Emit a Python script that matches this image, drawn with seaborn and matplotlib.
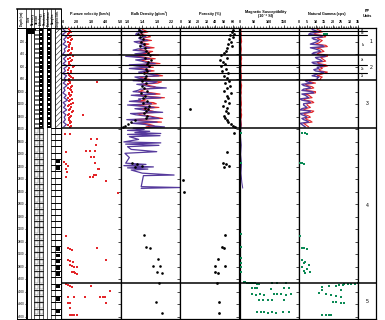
import matplotlib
matplotlib.use("Agg")
import matplotlib.pyplot as plt
import seaborn as sns
import numpy as np
from matplotlib.patches import Rectangle

# ---------------- data ----------------
depth_tick_labels = [200, 400, 600, 800, 1000, 1200, 1400, 1600, 1800, 2000, 2200, 2400,
                     2600, 2800, 3000, 3200, 3400, 3600, 3800, 4000, 4200, 4400, 4600]

log_depth = [0, 39, 78, 117, 156, 195, 234, 273, 312, 351, 390, 429, 468, 507, 546, 585, 624,
             663, 702, 741, 780, 819, 858, 897, 936, 975, 1014, 1053, 1092, 1131, 1170, 1209,
             1248, 1287, 1326, 1365, 1404, 1443, 1482, 1521, 1560]
log_depth_mid = [19.5, 58.5, 97.5, 136.5, 175.5, 214.5, 253.5, 292.5, 331.5, 370.5, 409.5,
                 448.5, 487.5, 526.5, 565.5, 604.5, 643.5, 682.5, 721.5, 760.5, 799.5, 838.5,
                 877.5, 916.5, 955.5, 994.5, 1033.5, 1072.5, 1111.5, 1150.5, 1189.5, 1228.5,
                 1267.5, 1306.5, 1345.5, 1384.5, 1423.5, 1462.5, 1501.5, 1540.5]

pwave_log = [1.10, 1.28, 1.05, 1.32, 1.12, 1.25, 1.07, 1.35, 1.15, 1.22, 1.06, 1.30, 1.11, 1.27,
             1.08, 1.36, 1.13, 1.24, 1.05, 1.31, 1.16, 1.26, 1.09, 1.34, 1.12, 1.21, 1.06, 1.29,
             1.14, 1.38, 1.08, 1.25, 1.11, 1.32, 1.07, 1.27, 1.15, 1.23, 1.09, 1.30, 1.12]
pwave_red_log = [1.45, 1.62, 1.38, 1.55, 1.70, 1.42, 1.58, 1.48, 1.66, 1.40, 1.52, 1.75, 1.44,
                 1.60, 1.50, 1.85, 1.47, 1.63, 1.41, 1.57, 1.72, 1.46, 1.54, 1.68, 1.43, 1.59,
                 1.49, 1.65, 1.39, 1.56, 1.74, 1.45, 1.61, 1.51, 1.67, 1.42, 1.58, 1.48, 1.64,
                 1.44, 1.53]
pwave_red_mid = [1.55, 1.48, 1.65, 1.40, 1.60, 1.52, 1.45, 1.70, 1.50, 1.62, 1.42, 1.58, 1.68,
                 1.46, 1.55, 1.72, 1.44, 1.60, 1.50, 1.65, 1.48, 1.58, 1.42, 1.62, 1.52, 1.70,
                 1.45, 1.56, 1.66, 1.48, 1.60, 1.42, 1.55, 1.75, 1.50, 1.62, 1.46, 1.58, 1.52,
                 1.64]
pwave_pts_depth = [836, 1369, 1673, 1673, 1753, 1753, 1849, 1956, 1945, 1945, 1945, 2036, 2036,
                   2142, 2117, 2150, 2190, 2230, 2277, 2238, 2238, 2330, 2330, 2357, 2357, 2366,
                   2421, 2613, 3301, 3503, 3515, 3530, 3503, 3690, 3700, 3718, 3690, 3770, 3785,
                   3795, 3807, 3878, 3890, 3900, 3915, 4075, 4090, 4105, 4118, 4107, 4182, 4278,
                   4278, 4278, 4278, 4278, 4278, 4374, 4384, 4380, 4464, 4571, 4571, 4575, 4571]
pwave_pts = [3.40, 2.44, 1.20, 1.54, 3.00, 3.40, 3.35, 1.30, 2.67, 2.94, 3.24, 3.00, 3.20,
             3.28, 1.15, 1.30, 1.40, 1.25, 1.35, 3.46, 3.52, 3.20, 3.35, 2.90, 3.10, 1.30,
             4.00, 4.80, 1.30, 1.43, 1.55, 1.66, 3.40, 1.40, 1.55, 1.75, 4.03, 1.55, 1.70,
             1.85, 2.00, 1.66, 1.80, 1.90, 2.00, 1.30, 1.40, 1.54, 1.66, 3.00, 4.25, 1.43,
             1.80, 2.60, 3.58, 3.80, 3.94, 1.43, 1.54, 4.00, 1.54, 1.54, 1.66, 1.80, 2.00]

bd_log_red = [1.40, 1.55, 1.35, 1.62, 1.45, 1.30, 1.58, 1.50, 1.38, 1.68, 1.32, 1.10, 1.75, 1.48,
              1.88, 1.35, 1.20, 1.72, 1.55, 1.95, 1.42, 1.28, 1.82, 1.58, 1.70, 1.40, 1.65, 1.22,
              2.00, 1.48, 1.70, 1.15, 1.85, 1.52, 1.78, 1.35, 1.75, 1.12, 1.92, 1.60, 1.50]
bd_red_mid = [1.48, 1.38, 1.55, 1.42, 1.65, 1.40, 1.45, 1.72, 1.30, 1.58, 1.85, 1.48, 1.35,
              1.62, 1.25, 1.70, 1.52, 1.42, 1.80, 1.33, 1.62, 1.92, 1.38, 1.75, 1.48, 1.30,
              1.88, 1.58, 1.45, 1.20, 1.78, 1.50, 1.35, 1.68, 1.25, 1.60, 1.95, 1.45, 1.28, 1.72]
bd_log_purple = [1.30, 1.45, 1.22, 1.50, 1.35, 1.18, 1.48, 1.40, 1.28, 1.55, 1.20, 0.95, 1.60,
                 1.38, 1.75, 1.25, 1.05, 1.62, 1.42, 1.85, 1.30, 1.15, 1.70, 1.45, 2.05, 1.28,
                 1.52, 1.10, 1.90, 1.35, 1.58, 1.00, 1.72, 1.40, 1.95, 1.22, 1.65, 0.98, 1.80,
                 1.48, 2.00]
bd_purple_mid = [1.38, 1.25, 1.42, 1.30, 1.55, 1.28, 1.33, 1.60, 1.15, 1.45, 1.70, 1.35, 1.22,
                 1.50, 1.05, 1.58, 1.40, 1.30, 1.68, 1.20, 1.50, 1.80, 1.25, 1.62, 1.35, 1.15,
                 1.75, 1.45, 1.30, 1.05, 1.65, 1.38, 1.20, 1.55, 1.08, 1.48, 1.85, 1.30, 1.12,
                 1.60]
bd_log2_depth = [1580, 1600, 1615, 1630, 1650, 1665, 1680, 1700, 1716, 1760, 1800, 1815, 1835,
                 1855, 1876, 1920, 1956, 1982, 2050, 2140, 2160, 2180, 2200, 2215, 2235, 2250,
                 2300, 2330, 2340, 2516, 2530, 2543]
bd_log2 = [1.15, 1.45, 1.00, 1.60, 1.20, 1.90, 1.00, 1.88, 1.05, 1.30, 0.90, 1.90, 0.95, 1.85,
           1.00, 1.10, 1.79, 0.93, 1.05, 0.95, 1.50, 0.90, 1.70, 1.00, 1.55, 1.10, 1.40, 2.26,
           1.43, 1.37, 2.42, 1.37]

mad_depth = [15, 40, 65, 95, 125, 160, 195, 230, 265, 300, 340, 380, 415, 450, 485, 520, 555,
             590, 625, 660, 700, 740, 780, 820, 860, 900, 940, 980, 1020, 1060, 1100, 1140, 1180,
             1220, 1260, 1278, 1300, 1340, 1380, 1420, 1450, 1480, 1510, 1540, 1565]
bd_dots = [1.30, 1.36, 1.28, 1.40, 1.33, 1.42, 1.37, 1.45, 1.35, 1.47, 1.50, 1.55, 1.60, 1.48,
           1.63, 1.56, 1.52, 1.58, 1.49, 1.54, 1.44, 1.51, 1.46, 1.40, 1.50, 1.38, 1.45, 1.53,
           1.36, 1.47, 1.43, 1.52, 1.41, 1.57, 1.46, 1.55, 1.50, 1.44, 1.52, 1.50, 1.20, 1.10,
           1.00, 0.92, 0.88]
porosity = [61, 59, 62, 57, 60, 56, 58, 55, 59, 54, 52, 50, 47, 53, 45, 49, 51, 46, 52, 48, 55,
            50, 53, 56, 51, 57, 54, 50, 58, 53, 55, 51, 56, 49, 54, 10.3, 52, 55, 50, 51, 53, 55,
            58, 61, 63]
bd_dots_depth_low = [2133, 2155, 2180, 2206, 3290, 3477, 3493, 3679, 3782, 3782, 3878, 3903,
                     4063, 4358, 4544]
bd_dots_low = [1.11, 1.25, 1.38, 1.20, 1.45, 1.49, 1.61, 1.82, 1.68, 1.88, 1.79, 1.92, 1.85,
               1.76, 1.94]
por_depth_low = [1662, 1956, 2133, 2155, 2180, 2206, 2409, 2597, 3290, 3477, 3493, 3679, 3782,
                 3782, 3878, 3903, 4063, 4358, 4544]
por_low = [61.7, 54, 49, 52, 56, 50, 2.3, 3.4, 51.7, 48, 50, 42.5, 40, 51, 39.4, 43, 42, 44, 44]

ms_red = [5, 4, 6, 5, 6, 7, 4, 5, 6, 5, 4, 6, 7, 5, 6, 6, 4, 5, 5, 6, 6, 4, 5, 7, 6, 5, 6, 4,
          5, 5, 6, 6, 4, 6, 5, 7, 6, 4, 5, 6, 5]
ms_purple_depth = [1450, 1570, 1700, 1850, 2000, 2150, 2300, 2450, 2540]
ms_purple = [4, 5, 3, 6, 4, 7, 5, 8, 11]
ms_green_depth = [1652, 2142, 3279, 3477, 3663, 3734, 3798, 3878,
                  4047, 4050, 4053, 4056, 4060, 4063, 4066, 4070, 4073, 4075,
                  4055, 4060, 4065,
                  4140, 4146, 4138, 4150, 4143, 4136,
                  4230, 4245, 4235, 4250, 4228, 4242, 4238, 4248, 4232,
                  4325, 4335, 4330, 4338, 4328,
                  4522, 4530, 4526, 4534, 4524, 4532, 4528, 4530]
ms_green = [4, 4, 4, 4, 4, 4, 4, 6,
            15, 20, 26, 32, 38, 45, 52, 58, 63, 66,
            111, 128, 156,
            43, 52, 60, 106, 151, 168,
            43, 55, 68, 83, 116, 128, 139, 156, 173,
            65, 80, 95, 111, 151,
            60, 72, 84, 96, 110, 125, 148, 168]

ng_purple = [8, 12, 6, 14, 9, 11, 7, 15, 10, 13, 8, 16, 11, 14, 9, 15, 12, 10, 13, 8, 11,
             4, 8, 3, 7, 2, 9, 4, 6, 2, 7, 3, 5, 1, 6, 2, 5, 3, 6, 2, 4]
ng_purple_mid = [10, 7, 13, 8, 12, 9, 14, 7, 12, 9, 15, 10, 13, 8, 14, 11, 9, 15, 10, 12, 11,
                 5, 2, 6, 3, 8, 2, 5, 1, 6, 3, 4, 2, 7, 1, 4, 2, 5, 1, 3]
ng_red = [11, 14, 9, 16, 12, 13, 10, 17, 13, 15, 11, 17, 14, 16, 12, 17, 14, 13, 15, 11, 13,
          6, 10, 5, 9, 4, 10, 6, 8, 4, 9, 5, 7, 3, 8, 4, 7, 5, 8, 4, 6]
ng_red_mid = [13, 10, 15, 11, 14, 12, 16, 10, 14, 12, 17, 13, 15, 11, 16, 13, 12, 17, 13, 14, 13,
              7, 4, 8, 5, 10, 4, 7, 3, 8, 5, 6, 4, 9, 3, 6, 4, 7, 3, 5]
ng_green_depth = [72, 72, 72, 1652, 1660, 1668, 2140, 2145, 2150, 3306, 3495, 3503, 3510,
                  3690, 3720, 3745, 3770, 3800, 3830, 3860, 3880, 3903,
                  4063, 4068, 4072, 4076, 4080, 4085, 4090, 4100, 4110, 4118,
                  4171, 4171, 4223, 4240, 4255, 4265, 4278, 4358, 4365, 4372, 4384,
                  4571, 4571, 4575, 4571]
ng_green = [15, 16, 17, 2, 4, 5, 1, 2, 3, 1, 2, 3, 5,
            2, 4, 3, 6, 2, 5, 3, 7, 4,
            35, 33, 31, 29, 27, 26, 24, 22, 18, 14,
            14, 25, 12, 16, 19, 22, 25, 20, 22, 25, 27,
            14, 16, 18, 19]

unit_bounds_major = [410, 810, 1570, 4060]
unit_bounds_minor = [30, 85, 575, 690]
subunit_labels = ["1a", "1b", "1c", "2a", "2b", "2c"]
subunit_depths = [12, 58, 250, 490, 632, 750]
unit_labels = ["1", "2", "3", "4", "5"]
unit_depths = [200, 610, 1190, 2815, 4350]

section_bounds = [0, 75, 150, 225, 300, 375, 450, 525, 600, 675, 750, 825, 900, 975, 1050,
                  1125, 1200, 1275, 1350, 1425, 1500, 1570, 1670, 1770, 1870, 1970, 2070, 2170,
                  2270, 2370, 2470, 2570, 2670, 2770, 2870, 2970, 3070, 3170, 3270, 3370, 3470,
                  3570, 3670, 3770, 3870, 3970, 4070, 4170, 4270, 4370, 4470, 4570]
black_blocks = [2070, 2170, 3470, 3570, 3670, 3770, 3870, 4070, 4270, 4470]
header_names = ["Depth (cm)", "Core", "Recovery", "Section", "Lithology",
                "Structures", "Disturbance", "Samples", "Graphic lith."]

# ---------------- style ----------------
sns.set_theme(style="ticks")
plt.rcParams['font.family'] = ['Liberation Sans', 'DejaVu Sans']
plt.rcParams['axes.edgecolor'] = 'black'
plt.rcParams['xtick.color'] = 'black'
plt.rcParams['ytick.color'] = 'black'
plt.rcParams['text.color'] = 'black'
plt.rcParams['hatch.linewidth'] = 0.35

RED = "#e3262a"
PURPLE = "#55399c"
GREEN = "#0b8a55"

W, H = 385, 320
fig = plt.figure(figsize=(W / 100, H / 100), dpi=100)
TOP, BOT = 28, 319
YLIM = (4635, -24)


def add_ax(x0, x1, y0=TOP, y1=BOT):
    return fig.add_axes([x0 / W, 1 - y1 / H, (x1 - x0) / W, (y1 - y0) / H])


def line(ax, xs, ys, color, lw):
    sns.lineplot(x=xs, y=ys, ax=ax, color=color, lw=lw, sort=True, orient='y',
                 estimator=None, legend=False)


def dots(ax, xs, ys, color, marker='o', s=3):
    sns.scatterplot(x=xs, y=ys, ax=ax, color=color, marker=marker, s=s, linewidth=0,
                    legend=False, zorder=4)


def setup(ax, xlim, major, labels, minor, title, cx, title2=None):
    ax.set_xlim(*xlim)
    ax.set_ylim(*YLIM)
    ax.set_xlabel('')
    ax.set_ylabel('')
    ax.xaxis.tick_top()
    ax.set_xticks(major)
    ax.set_xticklabels(labels, fontsize=2.6, fontweight='bold')
    ax.set_xticks(minor, minor=True)
    ax.tick_params(axis='x', which='major', direction='out', length=2.2, width=0.5, pad=0.4,
                   top=True, bottom=False, labeltop=True, labelbottom=False)
    ax.tick_params(axis='x', which='minor', direction='out', length=1.2, width=0.4,
                   top=True, bottom=False)
    ax.yaxis.tick_right()
    ax.set_yticks(depth_tick_labels)
    ax.set_yticklabels([])
    ax.tick_params(axis='y', which='major', direction='in', length=2, width=0.5,
                   right=True, left=False)
    ax.tick_params(axis='y', which='minor', right=False, left=False)
    for sp in ax.spines.values():
        sp.set_visible(True)
        sp.set_linewidth(0.9)
        sp.set_color('black')
    for d in unit_bounds_major:
        ax.axhline(d, color='black', lw=1.1, zorder=5)
    for d in unit_bounds_minor:
        ax.axhline(d, color='black', lw=0.8, zorder=5)
    if title2:
        fig.text(cx / W, 1 - 11.5 / H, title, ha='center', va='center', fontsize=2.7,
                 fontweight='bold')
        fig.text(cx / W, 1 - 15.8 / H, title2, ha='center', va='center', fontsize=2.7,
                 fontweight='bold', family=['Liberation Sans', 'DejaVu Sans'])
    else:
        fig.text(cx / W, 1 - 13.5 / H, title, ha='center', va='center', fontsize=2.7,
                 fontweight='bold')


# ---------------- P-wave ----------------
ax_pw = add_ax(60.5, 120.5)
dots(ax_pw, pwave_red_log + pwave_red_mid, log_depth + log_depth_mid, RED, marker='s', s=3)
line(ax_pw, pwave_log, log_depth, PURPLE, 0.9)
dots(ax_pw, pwave_pts, pwave_pts_depth, RED, marker='s', s=3)
setup(ax_pw, (0.9, 5.0), [1, 2, 3, 4, 5], ["1.0", "2.0", "3.0", "4.0", "5.0"],
      np.arange(1.0, 5.01, 0.2), "P-wave velocity (km/s)", 90)

# ---------------- Bulk density ----------------
ax_bd = add_ax(120.5, 180)
line(ax_bd, bd_log_red + bd_red_mid, log_depth + log_depth_mid, RED, 0.8)
line(ax_bd, bd_log_purple + bd_purple_mid + bd_log2,
     log_depth + log_depth_mid + bd_log2_depth, PURPLE, 0.9)
dots(ax_bd, bd_dots + bd_dots_low, mad_depth + bd_dots_depth_low, 'black', s=3.5)
setup(ax_bd, (0.81, 2.42), [1.0, 1.4, 1.8, 2.2], ["1.0", "1.4", "1.8", "2.2"],
      np.arange(0.9, 2.41, 0.1), "Bulk Density (g/cm³)", 149)

# ---------------- Porosity ----------------
ax_po = add_ax(180, 239.5)
dots(ax_po, porosity + por_low, mad_depth + por_depth_low, 'black', s=4)
setup(ax_po, (-1, 68), [0, 10, 20, 30, 40, 50, 60],
      ["0", "10", "20", "30", "40", "50", "60"], np.arange(0, 68, 2), "Porosity (%)", 210)

# ---------------- Magnetic susceptibility ----------------
ax_ms = add_ax(239.5, 298.5)
line(ax_ms, ms_red, log_depth, RED, 0.9)
line(ax_ms, ms_purple, ms_purple_depth, PURPLE, 0.7)
dots(ax_ms, ms_green, ms_green_depth, GREEN, marker='s', s=2.5)
setup(ax_ms, (0, 200), [0, 50, 100, 150], ["0", "50", "100", "150"],
      np.arange(0, 200, 10), "Magnetic Susceptibility", 266, "(10⁻⁶ SI)")

# ---------------- Natural gamma ----------------
ax_ng = add_ax(298.5, 358)
line(ax_ng, ng_red + ng_red_mid, log_depth + log_depth_mid, RED, 0.8)
line(ax_ng, ng_purple + ng_purple_mid, log_depth + log_depth_mid, PURPLE, 1.0)
dots(ax_ng, ng_green, ng_green_depth, GREEN, marker='s', s=2.5)
setup(ax_ng, (0, 35), [0, 5, 10, 15, 20, 25, 30, 35],
      ["0", "5", "10", "15", "20", "25", "30", "35"], np.arange(0, 35.1, 1),
      "Natural Gamma (cps)", 327)

# ---------------- PP units ----------------
ax_pp = add_ax(358, 376)
ax_pp.set_xlim(0, 1)
ax_pp.set_ylim(*YLIM)
ax_pp.set_xticks([])
ax_pp.set_yticks([])
for sp in ax_pp.spines.values():
    sp.set_linewidth(0.9)
    sp.set_color('black')
for d in unit_bounds_major:
    ax_pp.axhline(d, color='black', lw=1.1)
for d in unit_bounds_minor:
    ax_pp.axhline(d, xmax=0.5, color='black', lw=0.8)
for lab, d in zip(subunit_labels, subunit_depths):
    ax_pp.text(0.27, d, lab, ha='center', va='center', fontsize=2.2)
for lab, d in zip(unit_labels, unit_depths):
    x = 0.7 if lab in ("1", "2") else 0.5
    ax_pp.text(x, d, lab, ha='center', va='center', fontsize=3.6)
fig.text(367.5 / W, 1 - 11.5 / H, "PP", ha='center', va='center', fontsize=2.7,
         fontweight='bold')
fig.text(367.5 / W, 1 - 15.8 / H, "Units", ha='center', va='center', fontsize=2.7,
         fontweight='bold')

# ---------------- Lithology column ----------------
ax_li = add_ax(17, 60.5)
ax_li.set_xlim(0, 43.5)
ax_li.set_ylim(*YLIM)
ax_li.set_xticks([])
ax_li.set_yticks([])
for sp in ax_li.spines.values():
    sp.set_linewidth(0.7)
    sp.set_color('black')
col_edges = [14, 17, 22, 26, 30, 34, 38]
for x in col_edges:
    ax_li.axvline(x, color='black', lw=0.45)
ax_li.add_patch(Rectangle((9, YLIM[1]), 1.8, YLIM[0] - YLIM[1], fc='black', ec='none'))
ax_li.add_patch(Rectangle((10.8, 0), 8, 70, fc='black', ec='none'))
for d in depth_tick_labels:
    ax_li.text(7.6, d, str(d), ha='right', va='center', fontsize=2.2)
    ax_li.plot([8, 9], [d, d], color='black', lw=0.4)
upper = [s for s in section_bounds if s <= 1570]
for a, b in zip(upper[:-1], upper[1:]):
    ax_li.add_patch(Rectangle((17.4, a + 8), 4.2, b - a - 16, fc='white', ec='black', lw=0.4))
    ax_li.add_patch(Rectangle((22, a), 4, b - a, fc='black', ec='none'))
    ax_li.add_patch(Rectangle((23, (a + b) / 2 - 12), 2, 24, fc='white', ec='none'))
    ax_li.add_patch(Rectangle((30, a), 4, b - a, fc='black', ec='none'))
    ax_li.add_patch(Rectangle((31, (a + b) / 2 - 12), 2, 24, fc='white', ec='none'))
ax_li.add_patch(Rectangle((38, 0), 5.5, 1570, fc='white', ec='black', lw=0.4, hatch='//////'))
lower = [s for s in section_bounds if s >= 1570]
for a in lower:
    ax_li.plot([17, 26], [a, a], color='black', lw=0.6)
    ax_li.plot([34, 43.5], [a, a], color='black', lw=0.7)
for a, b in zip(lower[:-1], lower[1:]):
    ax_li.add_patch(Rectangle((18, a + 15), 3, b - a - 30, fc='white', ec='#555555', lw=0.3))
    ax_li.add_patch(Rectangle((22.5, a + 15), 3, b - a - 30, fc='white', ec='#555555', lw=0.3))
for a in black_blocks:
    ax_li.add_patch(Rectangle((39, a + 20), 4, 55, fc='black', ec='none'))

# header of lithology column
ax_lh = add_ax(17, 60.5, 9, 28)
ax_lh.set_xlim(0, 43.5)
ax_lh.set_ylim(0, 1)
ax_lh.set_xticks([])
ax_lh.set_yticks([])
for sp in ax_lh.spines.values():
    sp.set_linewidth(0.7)
    sp.set_color('black')
ax_lh.spines['top'].set_linewidth(1.1)
hdr_edges = [0, 9, 14, 17, 22, 26, 30, 34, 38, 43.5]
for x in hdr_edges[1:-1]:
    ax_lh.axvline(x, color='black', lw=0.45)
for name, a, b in zip(header_names, hdr_edges[:-1], hdr_edges[1:]):
    ax_lh.text((a + b) / 2, 0.5, name, rotation=90, ha='center', va='center', fontsize=2.0,
               fontweight='bold')

fig.savefig("out.png", dpi=100, facecolor='white')
